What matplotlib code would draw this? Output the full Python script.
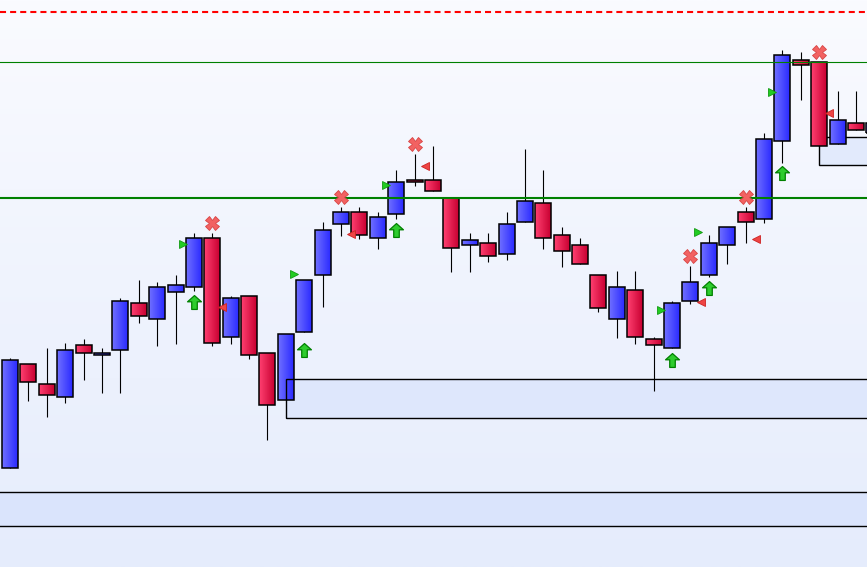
import numpy as np
import matplotlib
matplotlib.use("Agg")
import matplotlib.pyplot as plt
from matplotlib.patches import Rectangle
from matplotlib.path import Path
from matplotlib.colors import LinearSegmentedColormap

# ---- data (price units) ----
opens  = [99, 203, 183, 170, 222, 212, 217, 264, 248, 275, 280, 329, 230, 271, 214, 167,
          235, 292, 343, 355, 329, 353, 387, 387, 369, 322, 324, 313, 345, 364, 332, 322,
          292, 248, 277, 228, 219, 266, 292, 322, 355, 348, 426, 507, 505, 423, 444, 434]
closes = [207, 185, 172, 217, 214, 214, 266, 251, 280, 282, 329, 224, 269, 212, 162, 233,
          287, 337, 355, 332, 350, 385, 385, 376, 319, 327, 311, 343, 366, 329, 316, 303,
          259, 280, 230, 222, 264, 285, 324, 340, 345, 428, 512, 502, 421, 447, 437, 444]
highs  = [209, 203, 219, 224, 228, 219, 269, 287, 285, 292, 334, 334, 271, 271, 214, 233,
          287, 345, 360, 360, 355, 397, 413, 421, 369, 334, 334, 355, 418, 397, 340, 329,
          292, 296, 296, 230, 266, 301, 332, 340, 360, 434, 517, 515, 505, 476, 476, 444]
lows   = [99, 166, 150, 164, 187, 174, 174, 244, 221, 223, 276, 221, 223, 208, 127, 167,
          235, 260, 331, 328, 318, 348, 381, 376, 295, 295, 305, 307, 345, 318, 300, 303,
          255, 229, 223, 176, 219, 263, 290, 303, 324, 344, 404, 467, 421, 423, 437, 434]

# signals
sell_x_idx   = [11, 18, 22, 37, 40, 44]
sell_x_val   = [344, 370, 423, 311, 370, 515]
sell_tri_val = [260, 333, 401, 265, 328, 454]
buy_idx      = [10, 16, 21, 36, 38, 42]
buy_arrow_val = [265, 217, 337, 207, 279, 394]
buy_tri_val  = [323, 293, 382, 257, 335, 475]

# horizontal levels
dashed_level = 555
green_thin_level = 505
green_thick_level = 369

# zones: (start index, low, high)
zone1 = (15, 149, 188)
zone2 = (44, 402, 430)
zone3 = (None, 41, 75)

# ---- figure ----
W, H = 867, 567
fig = plt.figure(figsize=(W / 100, H / 100), dpi=100)
ax = fig.add_axes([0, 0, 1, 1])
sp = 18.39
x0 = -10 / sp
x1 = x0 + W / sp
ax.set_xlim(x0, x1)
ax.set_ylim(0, 567)
ax.axis("off")

# background gradient (light at top, slightly bluer at bottom)
bg = np.linspace(0, 1, 256).reshape(-1, 1)
bgcmap = LinearSegmentedColormap.from_list("bg", [(250/255, 251/255, 255/255), (229/255, 236/255, 252/255)])
ax.imshow(bg, cmap=bgcmap, extent=[x0, x1, 0, 567], aspect="auto", zorder=0, origin="upper")

# zones
def zfill(a):
    return (214/255, 226/255, 252/255, a)

ax.add_patch(Rectangle((x0 - 1, zone3[1]), x1 - x0 + 2, zone3[2] - zone3[1],
                       facecolor=zfill(0.75), edgecolor="black", lw=1.0, zorder=1))
ax.add_patch(Rectangle((zone2[0], zone2[1]), x1 - zone2[0] + 1, zone2[2] - zone2[1],
                       facecolor=zfill(0.6), edgecolor="black", lw=1.0, zorder=1))
ax.add_patch(Rectangle((zone1[0], zone1[1]), x1 - zone1[0] + 1, zone1[2] - zone1[1],
                       facecolor=zfill(0.6), edgecolor="none", zorder=1))
ax.add_patch(Rectangle((zone1[0], zone1[1]), x1 - zone1[0] + 1, zone1[2] - zone1[1],
                       facecolor="none", edgecolor="black", lw=1.0, zorder=6))

# candles
bw = 0.87
blue_cmap = LinearSegmentedColormap.from_list("b", ["#7070ff", "#2a2aff"])
red_cmap = LinearSegmentedColormap.from_list("r", ["#ff4070", "#c80032"])
grad = np.linspace(0, 1, 32).reshape(1, -1)
for i, (o, c, h, l) in enumerate(zip(opens, closes, highs, lows)):
    top, bot = max(o, c), min(o, c)
    ax.plot([i, i], [l, h], color="black", lw=0.8, zorder=3, solid_capstyle="butt")
    cm = blue_cmap if c >= o else red_cmap
    ax.imshow(grad, cmap=cm, extent=[i - bw / 2, i + bw / 2, bot, top],
              aspect="auto", zorder=4, interpolation="bilinear")
    ax.add_patch(Rectangle((i - bw / 2, bot), bw, top - bot, facecolor="none",
                           edgecolor="black", lw=1.1, zorder=5))

# levels
ax.axhline(dashed_level, color="#ff0000", lw=1.5, dashes=(2.9, 1.95), zorder=7)
ax.axhline(green_thin_level, color="#008000", lw=0.8, zorder=7)
ax.axhline(green_thick_level, color="#008000", lw=1.5, zorder=7)

# markers
arrow = Path([(-0.5, 0.05), (0, 0.5), (0.5, 0.05), (0.2, 0.05), (0.2, -0.5),
              (-0.2, -0.5), (-0.2, 0.05), (-0.5, 0.05)],
             [Path.MOVETO] + [Path.LINETO] * 6 + [Path.CLOSEPOLY])
ax.plot(buy_idx, buy_arrow_val, linestyle="none", marker=arrow, markersize=10,
        markerfacecolor="#2ecc2e", markeredgecolor="#008000", markeredgewidth=0.9, zorder=8)
ax.plot(np.array(buy_idx) - 0.58, buy_tri_val, linestyle="none", marker=">", markersize=5.5,
        markerfacecolor="#22cc22", markeredgecolor="#119911", markeredgewidth=0.6, zorder=8)
ax.plot(sell_x_idx, sell_x_val, linestyle="none", marker="X", markersize=9.5,
        markerfacecolor="#f26262", markeredgecolor="#d84444", markeredgewidth=0.6, zorder=8)
ax.plot(np.array(sell_x_idx) + 0.55, sell_tri_val, linestyle="none", marker="<", markersize=5.5,
        markerfacecolor="#ee4444", markeredgecolor="#cc2222", markeredgewidth=0.6, zorder=8)

fig.savefig("out.png", dpi=100)
